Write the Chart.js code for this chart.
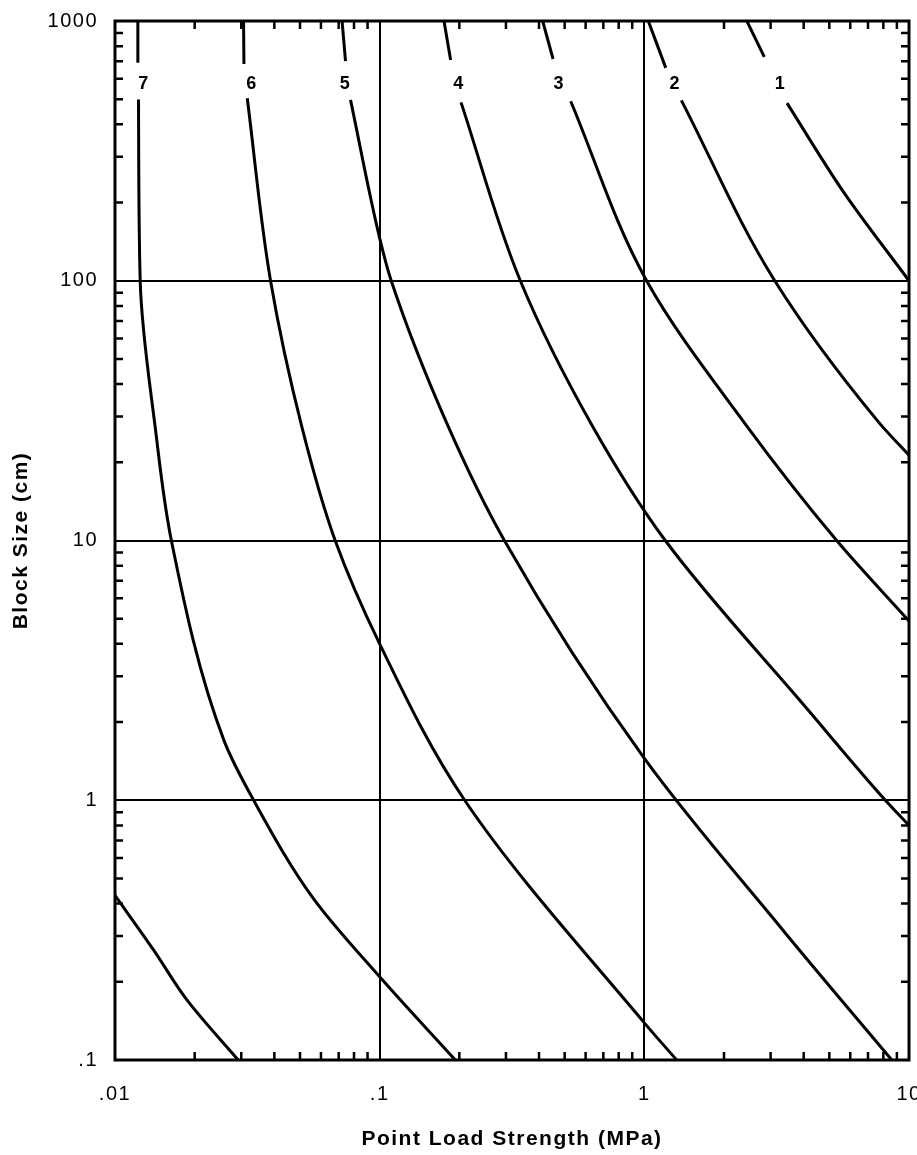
<!DOCTYPE html>
<html>
<head>
<meta charset="utf-8">
<title>Block Size vs Point Load Strength</title>
<script src="https://cdn.jsdelivr.net/npm/chart.js@4.4.0/dist/chart.umd.min.js"></script>
<style>
  html, body { margin: 0; padding: 0; background: #fff; }
  canvas { display: block; }
</style>
</head>
<body>
<canvas id="chartBloco" width="917" height="1155" style="width:917px;height:1155px"></canvas>
<script>
// curve values (strength in MPa, block size in cm); null = gap for the curve label
const strength1 = [2.44, 2.84, null, 3.46, 5.67, 10];
const size1     = [1000, 727, null, 483, 219, 100];

const strength2 = [1.035, 1.205, null, 1.38, 3.11, 7.69, 10];
const size2     = [1000, 660, null, 495, 100, 28.5, 21.3];

const strength3 = [0.413, 0.452, null, 0.527, 1.02, 2.40, 5.33, 10];
const size3     = [1000, 714, null, 491, 100, 28.2, 10, 4.9];

const strength4 = [0.175, 0.1854, null, 0.2029, 0.34, 0.634, 1.20, 4.15, 8.14, 10];
const size4     = [1000, 708, null, 486, 100, 27.8, 10, 2.23, 1, 0.80];

const strength5 = [0.0721, 0.0743, null, 0.0776, 0.1, 0.1106, 0.1815, 0.296, 1.0, 3.34, 8.61];
const size5     = [1000, 701, null, 497, 146, 100, 27.5, 10, 1.45, 0.316, 0.1];

const strength6 = [0.0306, 0.0307, null, 0.0316, 0.0387, 0.0509, 0.0679, 0.1, 0.2095, 1.0, 1.325];
const size6     = [1000, 683, null, 504, 100, 27.2, 10, 4.0, 1, 0.139, 0.1];

const strength7 = [0.0122, 0.0122, null, 0.01227, 0.01245, 0.01422, 0.01633, 0.0258, 0.0334, 0.0564, 0.1, 0.193];
const size7     = [1000, 690, null, 499, 100, 26.8, 10, 1.7, 1, 0.416, 0.209, 0.1];

const strength8 = [0.01, 0.01396, 0.0186, 0.0292];
const size8     = [0.43, 0.266, 0.1715, 0.1];

// curve numbers at the top of the chart
const curveLabels = ['1', '2', '3', '4', '5', '6', '7'];
const labelStrength = [3.25, 1.30, 0.474, 0.198, 0.0738, 0.0327, 0.0128];
const labelSize = [570, 570, 570, 570, 570, 570, 570];

// axis ticks
const xTicks = [0.01, 0.1, 1, 10];
const xTickLabels = ['.01', '.1', '1', '10'];
const yTicks = [0.1, 1, 10, 100, 1000];
const yTickLabels = ['.1', '1', '10', '100', '1000'];
const xDecades = [0.01, 0.1, 1];
const yDecades = [0.1, 1, 10, 100];
const minorSteps = [2, 3, 4, 5, 6, 7, 8, 9];

const FONT = '"Liberation Sans", Arial, Helvetica, sans-serif';

const allStrength = [strength1, strength2, strength3, strength4, strength5, strength6, strength7, strength8];
const allSize = [size1, size2, size3, size4, size5, size6, size7, size8];

// the curves fall steadily in size, so they are smoothed along the y axis
const datasets = allStrength.map((xs, k) => ({
  label: 'curva ' + (k + 1),
  data: xs.map((v, i) => ({ x: v, y: allSize[k][i] })),
  indexAxis: 'y',
  showLine: true,
  borderColor: '#000',
  borderWidth: 3,
  pointRadius: 0,
  cubicInterpolationMode: 'monotone',
  spanGaps: false
}));

// border, inner minor ticks and curve numbers
const moldura = {
  id: 'moldura',
  beforeDraw(chart) {
    chart.ctx.letterSpacing = '1.5px';
  },
  afterDraw(chart) {
    const { ctx, chartArea: a, scales: { x, y } } = chart;
    ctx.save();
    ctx.strokeStyle = '#000';
    ctx.lineWidth = 3;
    ctx.strokeRect(a.left, a.top, a.right - a.left, a.bottom - a.top);

    const len = 8;
    ctx.lineWidth = 2.5;
    ctx.beginPath();
    xDecades.forEach(d => minorSteps.forEach(m => {
      const px = x.getPixelForValue(d * m);
      ctx.moveTo(px, a.bottom); ctx.lineTo(px, a.bottom - len);
      ctx.moveTo(px, a.top); ctx.lineTo(px, a.top + len);
    }));
    yDecades.forEach(d => minorSteps.forEach(m => {
      const py = y.getPixelForValue(d * m);
      ctx.moveTo(a.left, py); ctx.lineTo(a.left + len, py);
      ctx.moveTo(a.right, py); ctx.lineTo(a.right - len, py);
    }));
    ctx.stroke();

    ctx.letterSpacing = '0px';
    ctx.fillStyle = '#000';
    ctx.font = 'bold 18px ' + FONT;
    ctx.textAlign = 'center';
    ctx.textBaseline = 'middle';
    curveLabels.forEach((t, i) => {
      ctx.fillText(t, x.getPixelForValue(labelStrength[i]), y.getPixelForValue(labelSize[i]));
    });
    ctx.restore();
  }
};

new Chart(document.getElementById('chartBloco').getContext('2d'), {
  type: 'scatter',
  data: { datasets },
  options: {
    responsive: false,
    animation: false,
    layout: { padding: { left: 0, right: 8, top: 21, bottom: 0 } },
    plugins: {
      legend: { display: false },
      tooltip: { enabled: false }
    },
    scales: {
      x: {
        type: 'logarithmic',
        min: 0.01,
        max: 10,
        afterBuildTicks: s => { s.ticks = xTicks.map(v => ({ value: v })); },
        afterFit: s => { s.height = 95; s.paddingLeft = 0; s.paddingRight = 0; },
        grid: { color: '#000', lineWidth: 2, drawTicks: false },
        border: { display: false },
        ticks: {
          autoSkip: false,
          maxRotation: 0,
          padding: 22,
          color: '#000',
          font: { family: FONT, size: 20 },
          callback: (v, i) => xTickLabels[i]
        },
        title: {
          display: true,
          text: 'Point Load Strength (MPa)',
          color: '#000',
          font: { family: FONT, size: 21, weight: 'bold' },
          padding: { top: 0, bottom: 3 }
        }
      },
      y: {
        type: 'logarithmic',
        min: 0.1,
        max: 1000,
        afterBuildTicks: s => { s.ticks = yTicks.map(v => ({ value: v })); },
        afterFit: s => { s.width = 115; s.paddingTop = 0; s.paddingBottom = 0; },
        grid: { color: '#000', lineWidth: 2, drawTicks: false },
        border: { display: false },
        ticks: {
          autoSkip: false,
          padding: 17,
          color: '#000',
          font: { family: FONT, size: 20 },
          callback: (v, i) => yTickLabels[i]
        },
        title: {
          display: true,
          text: 'Block Size (cm)',
          color: '#000',
          font: { family: FONT, size: 21, weight: 'bold' },
          padding: { top: 9, bottom: 0 }
        }
      }
    }
  },
  plugins: [moldura]
});
</script>
</body>
</html>
